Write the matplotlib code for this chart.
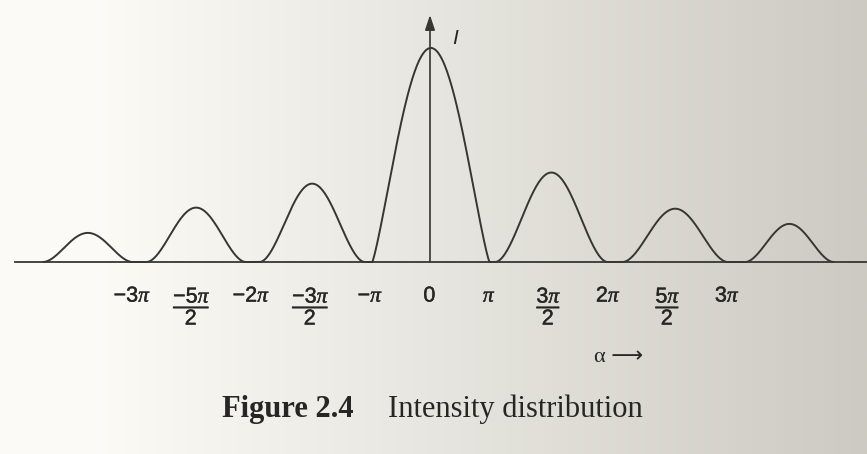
import numpy as np
import matplotlib
matplotlib.use("Agg")
import matplotlib.pyplot as plt
import matplotlib.patheffects as pe

plt.rcParams["mathtext.fontset"] = "custom"
plt.rcParams["mathtext.rm"] = "Liberation Sans"
plt.rcParams["mathtext.it"] = "Liberation Serif:italic"
plt.rcParams["mathtext.bf"] = "Liberation Sans:bold"

# single slit pattern, alpha in units of pi
# each lobe: where it leaves the axis, where it comes back, and its peak
lobe_start = [-3.75, -2.88, -1.93, -0.97, 1.05, 2.12, 3.15]
lobe_end = [-3.00, -2.05, -1.05, 1.00, 1.99, 3.00, 3.89]
lobe_height = [0.136, 0.254, 0.366, 1.0, 0.418, 0.249, 0.178]

tick_vals = [-3, -2.5, -2, -1.5, -1, 0, 1, 1.5, 2, 2.5, 3]
tick_text = [r"$-3\pi$", r"$\dfrac{-5\pi}{2}$", r"$-2\pi$", r"$\dfrac{-3\pi}{2}$",
             r"$-\pi$", r"$0$", r"$\pi$", r"$\dfrac{3\pi}{2}$", r"$2\pi$",
             r"$\dfrac{5\pi}{2}$", r"$3\pi$"]

ink = "#363633"
txt = "#262624"


# the sketch squeezes the central maximum: -pi..pi gets the room of one side lobe
def fwd(a):
    a = np.asarray(a, dtype=float)
    return np.where(np.abs(a) <= 1, a / 2, np.sign(a) * (np.abs(a) - 0.5))


def inv(u):
    u = np.asarray(u, dtype=float)
    return np.where(np.abs(u) <= 0.5, 2 * u, np.sign(u) * (np.abs(u) + 0.5))


xs, ys = [], []
for a0, a1, h in zip(lobe_start, lobe_end, lobe_height):
    t = np.linspace(-1, 1, 150)
    p = 1.2 if h == max(lobe_height) else 1.8
    xs.append((a0 + a1) / 2 + t * (a1 - a0) / 2)
    ys.append(h * np.clip(np.cos(np.pi * t / 2), 0, None) ** p)
x = np.concatenate(xs)
y = np.concatenate(ys)

fig = plt.figure(figsize=(8.67, 4.54), dpi=100)

# paper tone, lighter on the left
bg = fig.add_axes([0, 0, 1, 1])
gx = np.linspace(0, 1, 400)
f = np.clip((gx - 0.12) / 0.88, 0, 1)
white = np.array([0.985, 0.983, 0.965])
grey = np.array([0.80, 0.792, 0.76])
row = white[None, :] * (1 - f[:, None]) + grey[None, :] * f[:, None]
bg.imshow(np.repeat(row[None, :, :], 10, axis=0), aspect="auto", extent=[0, 1, 0, 1])
bg.axis("off")

ax = fig.add_axes([0, 0, 1, 1])
ax.set_facecolor("none")
ax.set_xscale("function", functions=(fwd, inv))
ax.set_xlim(-4.113, 4.172)
ax.set_ylim(-0.897, 1.224)

ax.plot(x, y, color=ink, lw=1.4, solid_capstyle="round")

for s in ["top", "right", "left"]:
    ax.spines[s].set_visible(False)
ax.spines["bottom"].set_position(("data", 0))
ax.spines["bottom"].set_bounds(-3.987, 4.172)
ax.spines["bottom"].set_color(ink)
ax.spines["bottom"].set_linewidth(1.3)

ax.set_xticks(tick_vals)
ax.set_xticklabels(tick_text)
ax.tick_params(axis="x", length=0, pad=17, labelsize=15.5, colors=txt)
for lab in ax.get_xticklabels():
    lab.set_path_effects([pe.withStroke(linewidth=0.3, foreground=txt)])
ax.set_yticks([])

# intensity axis with arrow head
ax.annotate("", xy=(0, 1.154), xytext=(0, 0),
            arrowprops=dict(arrowstyle="-|>,head_length=0.9,head_width=0.3",
                            color=ink, lw=1.2, mutation_scale=10,
                            shrinkA=0, shrinkB=0))
fig.text(455 / 867, 1 - 38 / 454, "I", family="Liberation Sans", style="italic",
         fontsize=15, color=txt, ha="center", va="center")

fig.text(619 / 867, 1 - 357 / 454, "α ⟶", family=["Liberation Serif", "DejaVu Sans"],
         fontsize=16, color=txt, ha="center", va="center")

fig.text(222 / 867, 1 - 417 / 454, "Figure 2.4", family="Liberation Serif",
         weight="bold", fontsize=22, color=txt, ha="left", va="baseline")
fig.text(388 / 867, 1 - 417 / 454, "Intensity distribution", family="Liberation Serif",
         fontsize=22, color=txt, ha="left", va="baseline")

fig.savefig("out.png", dpi=100)
